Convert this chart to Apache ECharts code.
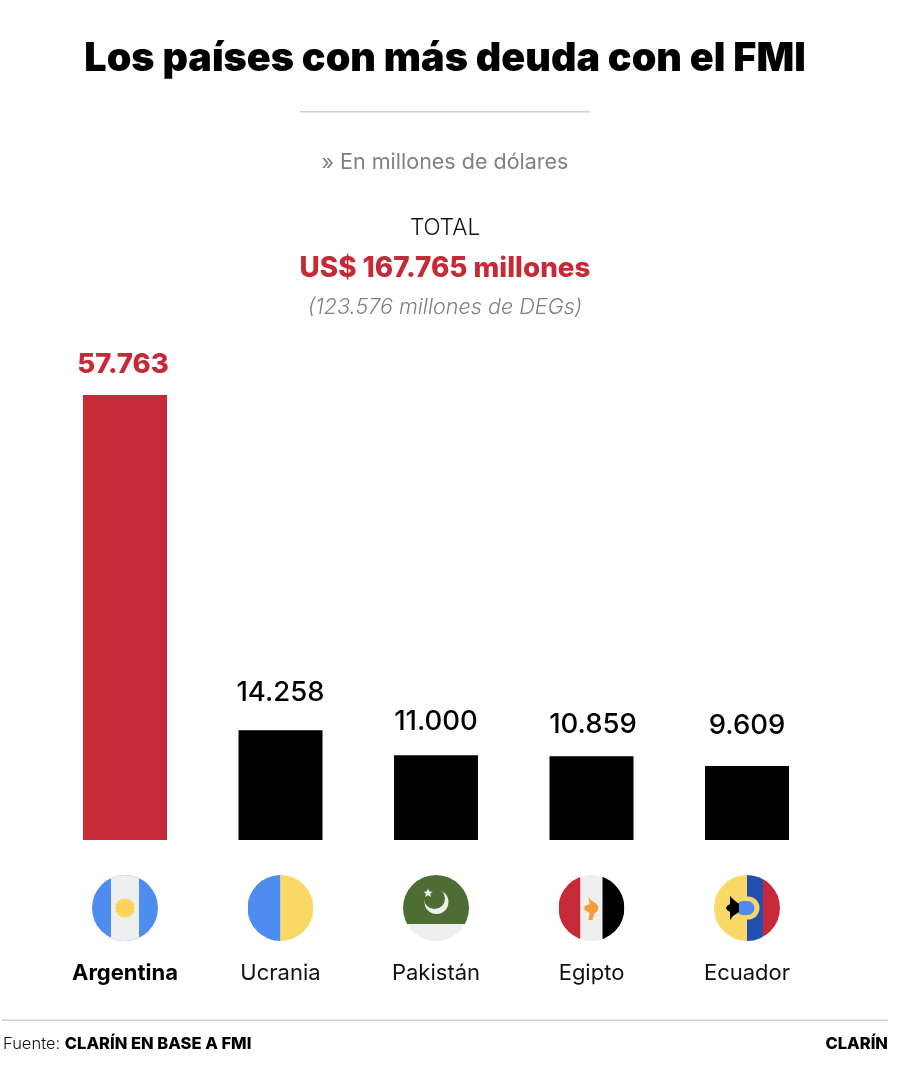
<!DOCTYPE html>
<html><head><meta charset="utf-8">
<script src="https://cdn.jsdelivr.net/npm/echarts@6/dist/echarts.min.js"></script>
<style>html,body{margin:0;padding:0;background:#fff}#c{width:906px;height:1072px}</style>
</head><body><div id="c"></div>
<script>
const categories = ['Argentina','Ucrania','Pakistán','Egipto','Ecuador'];
const values = [57763,14258,11000,10859,9609];
const flagKeys = ['ar','ua','pk','eg','ec'];
const labelGaps = [16,23,20,18,26];
const labelShifts = [-2,0,0,1.5,0];
const RED='#c62a39', BLUE='#4f8cef', YEL='#f9d866', WHT='#efefef';
function svg(inner){
  return 'data:image/svg+xml;charset=utf-8,'+encodeURIComponent(
  '<svg xmlns="http://www.w3.org/2000/svg" width="132" height="132" viewBox="-33 -33 66 66"><defs><clipPath id="k"><circle r="33"/></clipPath></defs><g clip-path="url(#k)">'+inner+'</g></svg>');
}
const sunRays = Array.from({length:8},(_,i)=>'<path d="M-1.400 -9.500L0 -9.800 1.400 -9.500 1.400 9.500 0 9.800 -1.400 9.500Z" fill="#f9d354" transform="rotate('+(i*22.5)+')"/>').join('');
const flags = {
 ar: svg('<rect x="-33" y="-33" width="66" height="66" fill="'+BLUE+'"/><rect x="-14" y="-33" width="28" height="66" fill="'+WHT+'"/><g>'+sunRays+'<circle r="6.300" fill="#f9d354"/></g>'),
 ua: svg('<rect x="-33" y="-33" width="33" height="66" fill="'+BLUE+'"/><rect x="0" y="-33" width="33" height="66" fill="'+YEL+'"/>'),
 pk: svg('<rect x="-33" y="-33" width="66" height="49" fill="#4e6d34"/><rect x="-33" y="16" width="66" height="17" fill="'+WHT+'"/><circle cx="0.500" cy="-6" r="12" fill="'+WHT+'"/><circle cx="-1.500" cy="-9.500" r="10.500" fill="#4e6d34"/><path d="M-8 -19.500l1.400 3 3.300 .2-2.500 2.100 .9 3.200-3.100-1.800-2.800 1.800.8-3.200-2.400-2.100 3.200-.2z" fill="'+WHT+'"/>'),
 eg: svg('<rect x="-33" y="-33" width="22" height="66" fill="'+RED+'"/><rect x="-11" y="-33" width="22" height="66" fill="'+WHT+'"/><rect x="11" y="-33" width="22" height="66" fill="#000"/><path d="M-3 -12L-1 -8 4 -5 7 -1 6 3 2.500 6 1 12-3 12-2 5-7 2-7 -2-2 -4z" fill="#f59b3a"/>'),
 ec: svg('<rect x="-33" y="-33" width="33" height="66" fill="'+YEL+'"/><rect x="0" y="-33" width="16" height="66" fill="#2250b0"/><rect x="16" y="-33" width="17" height="66" fill="'+RED+'"/><rect x="-13" y="-11.500" width="25.500" height="23" rx="11.500" fill="'+YEL+'"/><rect x="-11" y="-7" width="18.500" height="14" rx="7" fill="'+BLUE+'"/><path d="M-17 -12L-13 -8-8 -4-8 4-14 8-17 12-17 4-20 2-21 0-20 -2-17 -4z" fill="#000"/>')
};
const chart = echarts.init(document.getElementById('c'),null,{renderer:'canvas'});
const FONT='Inter, Roboto, sans-serif';
const rich = {
  name:{fontFamily:FONT,fontSize:22,color:'#111',lineHeight:30,padding:[34,0,0,0],align:'center'},
  bold:{fontFamily:FONT,fontSize:22,fontWeight:700,color:'#000',lineHeight:30,padding:[34,0,0,0],align:'center'}
};
flagKeys.forEach(k=>{rich[k]={width:66,height:66,align:'center',backgroundColor:{image:flags[k]}};});
const centered=(text,top,size,color,weight,style)=>({text,left:445,textAlign:'center',top,padding:0,
  textStyle:{fontFamily:FONT,fontSize:size,color,fontWeight:weight||400,fontStyle:style||'normal'}});
chart.setOption({
  animation:false,backgroundColor:'#fff',
  title:[
    centered('Los países con más deuda con el FMI',39,39.500,'#000',900),
    centered('» En millones de dólares',152,21.500,'#808080'),
    centered('TOTAL',217,22.500,'#111',300),
    centered('US$ 167.765 millones',255,27.800,RED,800),
    centered('(123.576 millones de DEGs)',296,21.600,'#808080',300,'italic')
  ],
  grid:{left:47.25,right:81.25,top:377.8,bottom:232,containLabel:false},
  xAxis:{type:'category',data:categories,axisLine:{show:false},axisTick:{show:false},
    axisLabel:{margin:35,interval:0,
      formatter:(v,i)=>'{'+flagKeys[i]+'|}\n{'+(i===0?'bold':'name')+'|'+v+'}',rich}},
  yAxis:{type:'value',min:0,max:60000,show:false},
  series:[{type:'bar',barWidth:84,
    data:values.map((v,i)=>({value:v,itemStyle:{color:i===0?RED:'#000'},
      label:{color:i===0?RED:'#000',fontWeight:i===0?800:500,distance:labelGaps[i],offset:[labelShifts[i],0]}})),
    label:{show:true,position:'top',fontFamily:FONT,fontSize:27.500,
      formatter:p=>String(p.value).replace(/\B(?=(\d{3})+$)/g,'.')}}],
  graphic:[
    {type:'rect',shape:{x:300,y:111,width:290,height:1.5},style:{fill:'#cfcfcf'}},
    {type:'rect',shape:{x:2,y:1019.5,width:886,height:1.5},style:{fill:'#cfcfcf'}},
    {type:'text',left:3,top:1036,style:{rich:{a:{fontFamily:FONT,fontSize:16.500,fontWeight:300,fill:'#111'},b:{fontFamily:FONT,fontSize:16.500,fontWeight:800,fill:'#000'}},text:'{a|Fuente: }{b|CLARÍN EN BASE A FMI}'}},
    {type:'text',right:18,top:1036,style:{text:'CLARÍN',fontFamily:FONT,fontSize:16.500,fontWeight:800,fill:'#000'}}
  ]
});
</script></body></html>
